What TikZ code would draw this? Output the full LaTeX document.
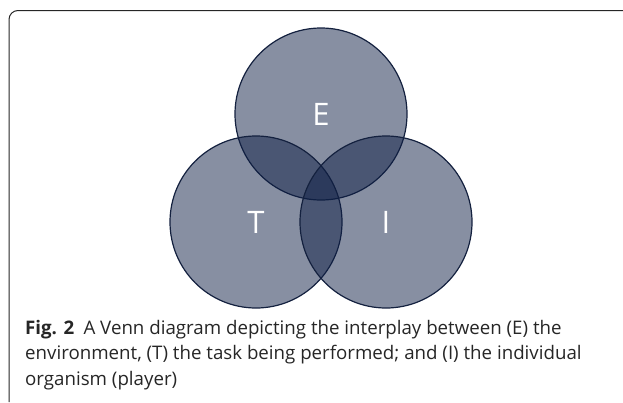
\documentclass[tikz,border=0pt]{standalone}
\usepackage{fontspec}
\setmainfont{Open Sans}
\usetikzlibrary{positioning}
\definecolor{setfill}{RGB}{15,31,69}
\definecolor{setline}{RGB}{20,33,63}
\tikzstyle{vennset}=[circle,draw=setline,fill=setfill,fill opacity=0.5,text opacity=1,
  text=white,minimum size=172pt,inner sep=0pt,line width=1.2pt,
  font=\fontsize{31}{31}\selectfont]
\tikzstyle{figcaption}=[align=left,inner sep=0pt,text=black!85,
  font=\fontsize{18.7}{25.5}\selectfont]
\newcommand{\newSet}[3]{\node[vennset](#1) at (#2) {#3};}

\begin{document}
\begin{tikzpicture}[x=1pt,y=-1pt]
      \useasboundingbox (0,0) rectangle (623,402);
      % frame round the figure
      \draw[black!85,line width=1pt,rounded corners=9pt] (9,402) -- (9,10.5) -- (623,10.5);
      \newSet{E}{321,114}{E}
      \newSet{T}{256,222}{T}
      \newSet{I}{386,222}{I}
      \node[figcaption,anchor=north west] (cap) at (25,320)
        {\textbf{Fig. 2}\hspace{0.5em}A Venn diagram depicting the interplay between (E) the\\
         environment, (T) the task being performed; and (I) the individual\\
         organism (player)};
\end{tikzpicture}
\end{document}
